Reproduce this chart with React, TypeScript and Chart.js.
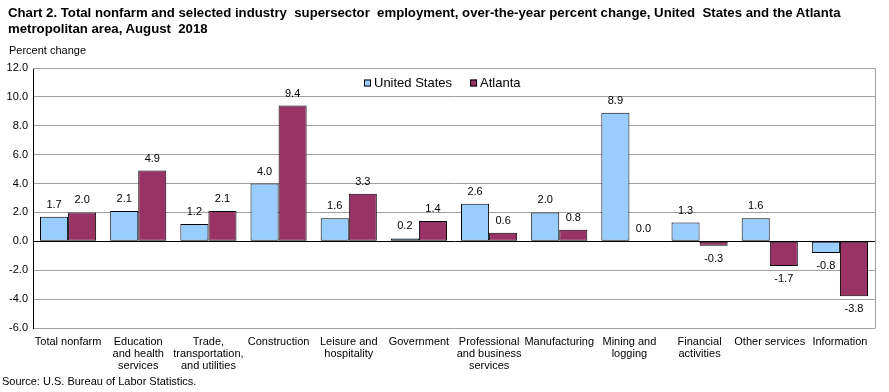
import React, { useEffect, useRef } from "react";
import { Chart, registerables } from "chart.js";

Chart.register(...registerables);

const FONT = "'Liberation Sans', Arial, Helvetica, sans-serif";

const categories: (string | string[])[] = [
  "Total nonfarm",
  ["Education", "and health", "services"],
  ["Trade,", "transportation,", "and utilities"],
  "Construction",
  ["Leisure and", "hospitality"],
  "Government",
  ["Professional", "and business", "services"],
  "Manufacturing",
  ["Mining and", "logging"],
  ["Financial", "activities"],
  "Other services",
  "Information",
];

const unitedStates = [1.7, 2.1, 1.2, 4.0, 1.6, 0.2, 2.6, 2.0, 8.9, 1.3, 1.6, -0.8];
const atlanta = [2.0, 4.9, 2.1, 9.4, 3.3, 1.4, 0.6, 0.8, 0.0, -0.3, -1.7, -3.8];

const seriesNames = ["United States", "Atlanta"];
const seriesColors = ["#99CCFF", "#993366"];

const yMin = -6;
const yMax = 12;
const yStep = 2;

const titleText =
  "Chart 2. Total nonfarm and selected industry  supersector  employment, over-the-year percent change, United  States and the Atlanta\nmetropolitan area, August  2018";

const frame = {
  id: "frame",
  beforeDatasetsDraw(chart: any) {
    const { ctx, chartArea: a } = chart;
    ctx.save();
    ctx.strokeStyle = "#A0A0A0";
    ctx.lineWidth = 1;
    ctx.beginPath();
    ctx.moveTo(a.left, a.top + 0.5);
    ctx.lineTo(Math.round(a.right) + 0.5, a.top + 0.5);
    ctx.lineTo(Math.round(a.right) + 0.5, a.bottom + 0.5);
    ctx.stroke();
    ctx.restore();
  },
};

const valueLabels = {
  id: "valueLabels",
  afterDatasetsDraw(chart: any) {
    const { ctx } = chart;
    ctx.save();
    ctx.font = `11px ${FONT}`;
    ctx.fillStyle = "#000";
    ctx.textAlign = "center";
    ctx.textBaseline = "middle";
    chart.data.datasets.forEach((ds: any, i: number) => {
      const meta = chart.getDatasetMeta(i);
      meta.data.forEach((el: any, j: number) => {
        const v = ds.data[j] as number;
        const y = v >= 0 ? el.y - 12 : el.y + 13;
        ctx.fillText(v.toFixed(1), el.x, y);
      });
    });
    ctx.restore();
  },
};

const customLegend = {
  id: "customLegend",
  afterDraw(chart: any) {
    const { ctx } = chart;
    ctx.save();
    ctx.font = `13px ${FONT}`;
    ctx.textBaseline = "middle";
    ctx.textAlign = "left";
    let x = 364;
    const y = 83;
    seriesNames.forEach((name, i) => {
      ctx.fillStyle = seriesColors[i];
      ctx.fillRect(x, y - 3.5, 7, 7);
      ctx.strokeStyle = "#000";
      ctx.lineWidth = 1;
      ctx.strokeRect(x + 0.5, y - 3.5 + 0.5, 6, 6);
      ctx.fillStyle = "#000";
      ctx.fillText(name, x + 10, y);
      x += 10 + ctx.measureText(name).width + 18;
    });
    ctx.restore();
  },
};

export default function App() {
  const canvasRef = useRef<HTMLCanvasElement | null>(null);

  useEffect(() => {
    if (!canvasRef.current) return;
    const chart = new Chart(canvasRef.current, {
      type: "bar",
      data: {
        labels: categories as any,
        datasets: [
          {
            label: seriesNames[0],
            data: unitedStates,
            backgroundColor: seriesColors[0],
            borderColor: "#000",
            borderWidth: 1,
            borderSkipped: false,
            categoryPercentage: 0.8,
            barPercentage: 1.0,
          },
          {
            label: seriesNames[1],
            data: atlanta,
            backgroundColor: seriesColors[1],
            borderColor: "#000",
            borderWidth: 1,
            borderSkipped: false,
            categoryPercentage: 0.8,
            barPercentage: 1.0,
          },
        ],
      },
      options: {
        responsive: false,
        animation: false,
        devicePixelRatio: 1,
        layout: { padding: { left: 0, right: 14, top: 68, bottom: 14 } },
        plugins: {
          legend: { display: false },
          title: { display: false },
          tooltip: { enabled: false },
        },
        scales: {
          x: {
            grid: { display: false, drawTicks: false },
            border: { display: false },
            ticks: {
              color: "#000",
              font: { family: FONT, size: 11, lineHeight: 1.1 },
              maxRotation: 0,
              minRotation: 0,
              autoSkip: false,
              padding: 8,
            },
            afterFit(scale: any) {
              scale.height = 50;
            },
          },
          y: {
            min: yMin,
            max: yMax,
            grid: {
              color: (c: any) => (c.tick && c.tick.value === 0 ? "#000" : "#A0A0A0"),
              drawTicks: false,
            },
            border: { display: true, color: "#000", width: 1 },
            ticks: {
              stepSize: yStep,
              color: "#000",
              font: { family: FONT, size: 11 },
              padding: 5,
              callback: (v: any) => Number(v).toFixed(1),
            },
            afterFit(scale: any) {
              scale.width = 33;
            },
          },
        },
      },
      plugins: [frame, valueLabels, customLegend],
    });
    return () => chart.destroy();
  }, []);

  return (
    <div
      style={{
        position: "absolute",
        left: 0,
        top: 0,
        width: 889,
        height: 392,
        background: "#fff",
        fontFamily: FONT,
        color: "#000",
      }}
    >
      <canvas ref={canvasRef} width={889} height={392} style={{ position: "absolute", left: 0, top: 0 }} />
      <div
        style={{
          position: "absolute",
          left: 8,
          top: 5,
          fontSize: 13.2,
          fontWeight: "bold",
          lineHeight: "16px",
          whiteSpace: "pre",
        }}
      >
        {titleText}
      </div>
      <div style={{ position: "absolute", left: 9, top: 44, fontSize: 11 }}>Percent change</div>
      <div style={{ position: "absolute", left: 2, top: 375, fontSize: 11 }}>
        Source: U.S. Bureau of Labor Statistics.
      </div>
    </div>
  );
}
